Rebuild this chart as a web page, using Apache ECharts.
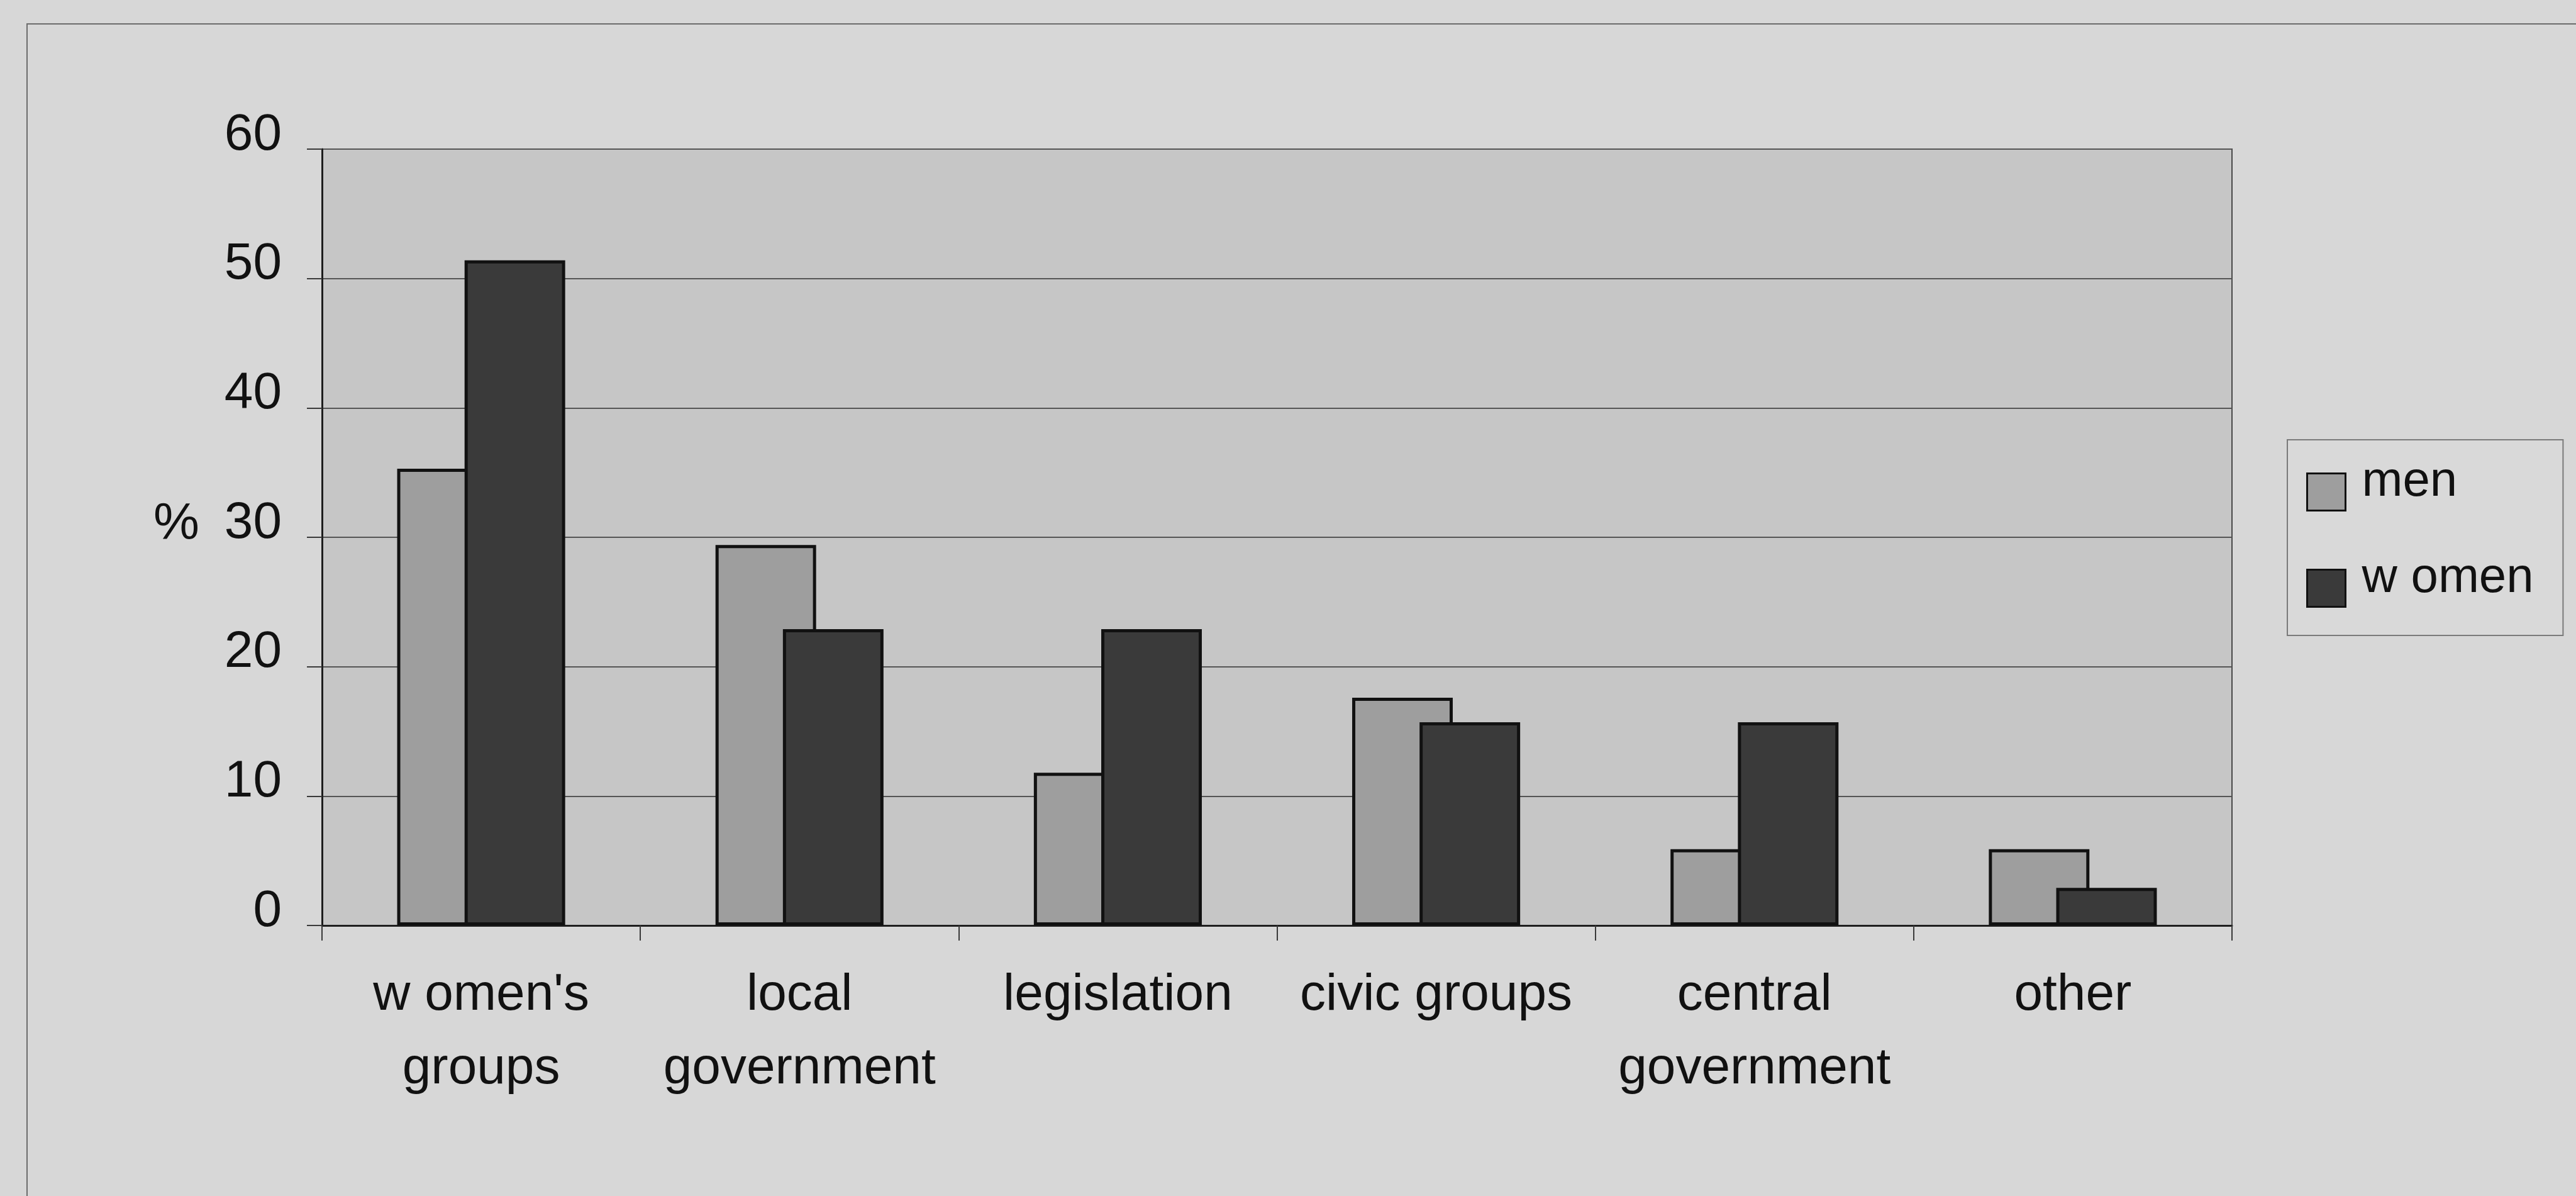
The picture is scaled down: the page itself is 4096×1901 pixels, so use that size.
<!DOCTYPE html>
<html>
<head>
<meta charset="utf-8">
<title>Areas of activity, men and women (%)</title>
<script src="https://cdn.jsdelivr.net/npm/echarts@6/dist/echarts.min.js"></script>
<style>
  html, body { margin: 0; padding: 0; background: #d7d7d7; }
  #chart { width: 4096px; height: 1901px; }
</style>
</head>
<body>
<div id="chart"></div>
<script>
// Category labels (line breaks as printed under the axis)
const categories = [
  "w omen's\ngroups",
  "local\ngovernment",
  "legislation",
  "civic groups",
  "central\ngovernment",
  "other"
];

// Share of respondents per area, in percent
const menValues   = [35.3, 29.4, 11.8, 17.6, 5.9, 5.9];
const womenValues = [51.4, 22.9, 22.9, 15.7, 15.7, 2.9];

const seriesNames = ["men", "w omen"];
const yTicks = { min: 0, max: 60, step: 10 };
const yAxisTitle = "%";

const FONT = '"Liberation Sans", Arial, Helvetica, sans-serif';
const INK = '#111111';

const chart = echarts.init(document.getElementById('chart'), null, { renderer: 'canvas' });

chart.setOption({
  backgroundColor: '#d7d7d7',
  animation: false,
  textStyle: { fontFamily: FONT, color: INK },
  graphic: [
    {
      // frame of the chart object (left and top edges visible)
      type: 'rect',
      silent: true,
      z: -5,
      shape: { x: 43, y: 38, width: 5000, height: 3000 },
      style: { fill: 'none', stroke: '#6c6c6c', lineWidth: 2 }
    }
  ],
  grid: {
    left: 512,
    right: 547,
    top: 237,
    bottom: 430,
    show: true,
    backgroundColor: '#c6c6c6',
    borderColor: '#4a4a4a',
    borderWidth: 2,
    containLabel: false
  },
  legend: {
    orient: 'vertical',
    left: 3637,
    top: 699,
    padding: [28, 44, 44, 30],
    itemWidth: 61,
    itemHeight: 59,
    itemGap: 67,
    borderColor: '#7a7a7a',
    borderWidth: 2,
    backgroundColor: '#d9d9d9',
    icon: 'rect',
    itemStyle: { borderColor: '#111', borderWidth: 3 },
    // the name sits at the top of a taller line, so it rides above the swatch centre
    formatter: '{t|{name}}{s| }',
    textStyle: {
      fontFamily: FONT,
      fontSize: 78,
      color: INK,
      rich: {
        t: {
          fontFamily: FONT,
          fontSize: 78,
          color: INK,
          lineHeight: 59,
          verticalAlign: 'top',
          padding: [0, 0, 0, 21]
        },
        s: {
          fontFamily: FONT,
          fontSize: 10,
          lineHeight: 110,
          verticalAlign: 'middle'
        }
      }
    },
    data: seriesNames
  },
  xAxis: {
    type: 'category',
    data: categories,
    boundaryGap: true,
    axisLine: { show: true, lineStyle: { color: '#1e1e1e', width: 3 } },
    axisTick: { show: true, length: 24, inside: false, lineStyle: { color: '#3a3a3a', width: 2 } },
    axisLabel: {
      interval: 0,
      margin: 53,
      fontFamily: FONT,
      fontSize: 82,
      lineHeight: 117,
      color: INK
    },
    splitLine: { show: false }
  },
  yAxis: {
    type: 'value',
    min: yTicks.min,
    max: yTicks.max,
    interval: yTicks.step,
    name: yAxisTitle,
    nameLocation: 'middle',
    nameRotate: 0,
    nameGap: 195,
    nameTextStyle: {
      fontFamily: FONT,
      fontSize: 82,
      color: INK,
      lineHeight: 40,
      verticalAlign: 'bottom'
    },
    axisLine: { show: true, lineStyle: { color: '#1e1e1e', width: 3 } },
    axisTick: { show: true, length: 24, inside: false, lineStyle: { color: '#3a3a3a', width: 2 } },
    axisLabel: {
      margin: 64,
      fontFamily: FONT,
      fontSize: 82,
      color: INK,
      lineHeight: 44,
      verticalAlign: 'bottom'
    },
    splitLine: { show: true, lineStyle: { color: '#555555', width: 2 } }
  },
  series: [
    {
      name: seriesNames[0],
      type: 'bar',
      data: menValues,
      barWidth: '31.6%',
      barGap: '-33%',
      itemStyle: { color: '#9e9e9e', borderColor: '#111111', borderWidth: 5 }
    },
    {
      name: seriesNames[1],
      type: 'bar',
      data: womenValues,
      barWidth: '31.6%',
      barGap: '-33%',
      itemStyle: { color: '#3a3a3a', borderColor: '#111111', borderWidth: 5 }
    }
  ]
});
</script>
</body>
</html>
